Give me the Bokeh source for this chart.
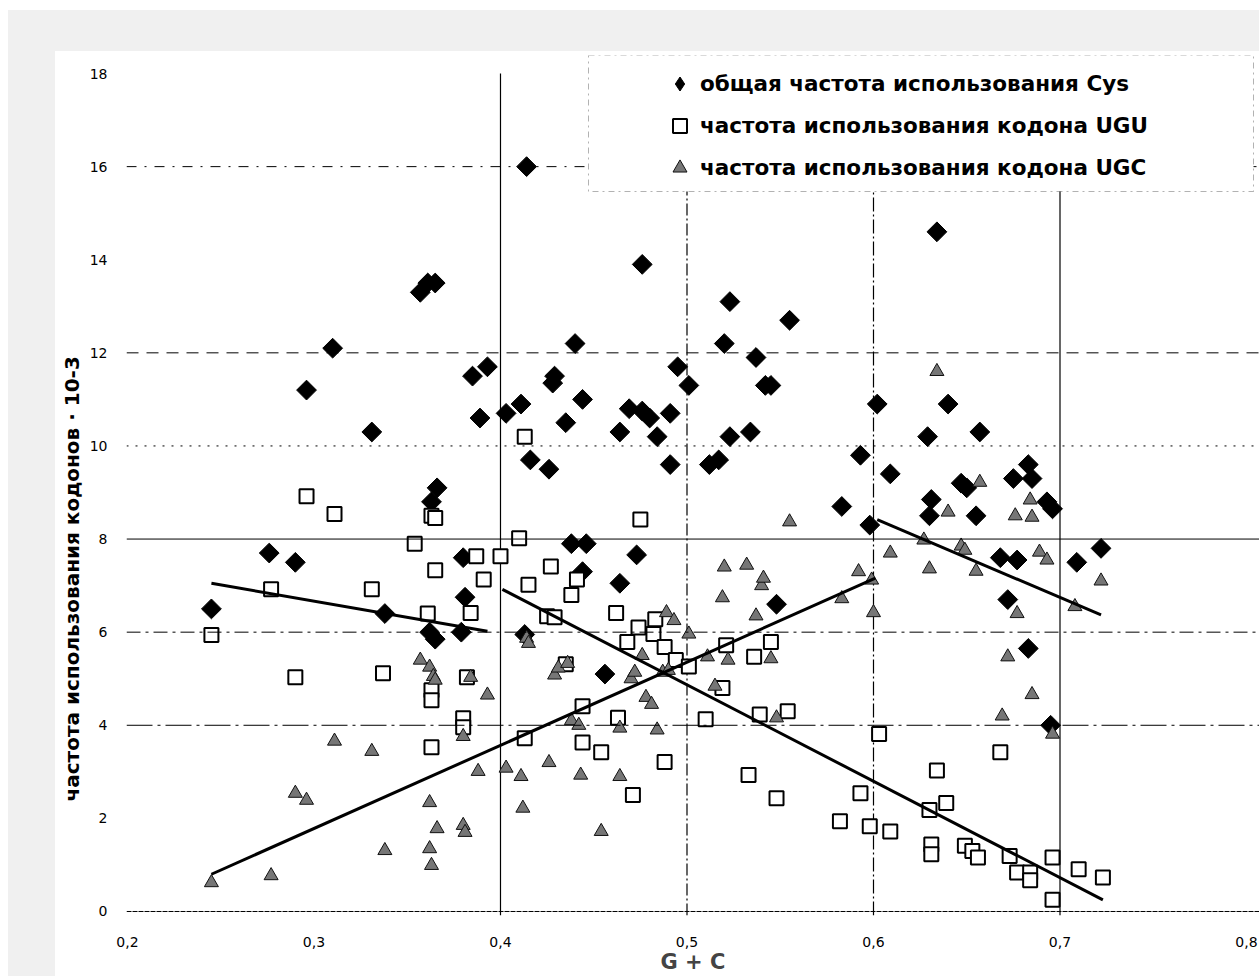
import numpy as np
from bokeh.plotting import figure
from bokeh.models import (ColumnDataSource, Span, FixedTicker, Legend, LegendItem,
                          Title, Spacer, Range1d, BoxAnnotation)
from bokeh.layouts import column, row
from bokeh.embed import file_html
from bokeh.resources import INLINE

# ---------------- data ----------------
cys_gc = [0.245, 0.276, 0.290, 0.296, 0.310, 0.331, 0.338, 0.357, 0.361, 0.365,
          0.363, 0.366, 0.362, 0.365, 0.380, 0.381, 0.379, 0.385, 0.393, 0.389,
          0.403, 0.411, 0.414, 0.413, 0.416, 0.426, 0.429, 0.428, 0.435, 0.440,
          0.444, 0.438, 0.446, 0.444, 0.456, 0.464, 0.473, 0.464, 0.469, 0.476,
          0.480, 0.484, 0.491, 0.491, 0.476, 0.495, 0.501, 0.512, 0.517, 0.523,
          0.534, 0.520, 0.523, 0.537, 0.542, 0.545, 0.548, 0.555, 0.583, 0.593,
          0.598, 0.602, 0.609, 0.629, 0.630, 0.631, 0.634, 0.640, 0.647, 0.650,
          0.655, 0.657, 0.668, 0.672, 0.675, 0.677, 0.683, 0.685, 0.683, 0.693,
          0.696, 0.695, 0.709, 0.722]
cys_val = [6.5, 7.7, 7.5, 11.2, 12.1, 10.3, 6.4, 13.3, 13.5, 13.5,
           8.8, 9.1, 6.0, 5.85, 7.6, 6.75, 6.0, 11.5, 11.7, 10.6,
           10.7, 10.9, 16.0, 5.95, 9.7, 9.5, 11.5, 11.35, 10.5, 12.2,
           11.0, 7.9, 7.9, 7.3, 5.1, 7.05, 7.66, 10.3, 10.8, 10.75,
           10.6, 10.2, 10.7, 9.6, 13.9, 11.7, 11.3, 9.6, 9.7, 10.2,
           10.3, 12.2, 13.1, 11.9, 11.3, 11.3, 6.6, 12.7, 8.7, 9.8,
           8.3, 10.9, 9.4, 10.2, 8.5, 8.85, 14.6, 10.9, 9.2, 9.1,
           8.5, 10.3, 7.6, 6.7, 9.3, 7.55, 9.6, 9.3, 5.65, 8.8,
           8.65, 4.0, 7.5, 7.8]

ugu_gc = [0.245, 0.277, 0.290, 0.296, 0.311, 0.331, 0.337, 0.354, 0.361, 0.363,
          0.363, 0.363, 0.363, 0.365, 0.365, 0.384, 0.382, 0.380, 0.380, 0.387,
          0.391, 0.400, 0.410, 0.413, 0.413, 0.415, 0.425, 0.429, 0.427, 0.435,
          0.438, 0.441, 0.444, 0.444, 0.454, 0.462, 0.463, 0.468, 0.471, 0.475,
          0.474, 0.482, 0.483, 0.488, 0.488, 0.494, 0.501, 0.510, 0.519, 0.521,
          0.533, 0.536, 0.539, 0.545, 0.548, 0.554, 0.582, 0.593, 0.598, 0.603,
          0.609, 0.630, 0.631, 0.631, 0.634, 0.639, 0.649, 0.653, 0.656, 0.668,
          0.673, 0.677, 0.684, 0.684, 0.696, 0.696, 0.710, 0.723]
ugu_val = [5.94, 6.92, 5.03, 8.92, 8.54, 6.92, 5.12, 7.9, 6.4, 4.75,
           4.54, 3.53, 8.5, 8.45, 7.33, 6.41, 5.03, 4.15, 3.96, 7.63,
           7.13, 7.63, 8.02, 10.2, 3.72, 7.02, 6.34, 6.32, 7.41, 5.31,
           6.8, 7.13, 4.41, 3.63, 3.42, 6.41, 4.16, 5.79, 2.5, 8.42,
           6.1, 5.96, 6.28, 5.68, 3.21, 5.4, 5.26, 4.13, 4.8, 5.72,
           2.93, 5.47, 4.23, 5.79, 2.43, 4.3, 1.94, 2.54, 1.83, 3.81,
           1.72, 2.18, 1.44, 1.23, 3.03, 2.33, 1.41, 1.3, 1.16, 3.42,
           1.19, 0.84, 0.84, 0.67, 1.16, 0.25, 0.91, 0.73]

ugc_gc = [0.245, 0.277, 0.290, 0.296, 0.311, 0.331, 0.338, 0.357, 0.362, 0.364,
          0.365, 0.362, 0.366, 0.362, 0.363, 0.380, 0.381, 0.380, 0.384, 0.393,
          0.388, 0.403, 0.411, 0.412, 0.414, 0.415, 0.426, 0.429, 0.431, 0.436,
          0.438, 0.442, 0.443, 0.454, 0.464, 0.464, 0.470, 0.472, 0.476, 0.478,
          0.481, 0.484, 0.489, 0.493, 0.487, 0.490, 0.501, 0.511, 0.515, 0.519,
          0.520, 0.522, 0.532, 0.537, 0.540, 0.541, 0.545, 0.548, 0.555, 0.583,
          0.592, 0.599, 0.600, 0.609, 0.627, 0.630, 0.634, 0.640, 0.647, 0.649,
          0.655, 0.657, 0.669, 0.672, 0.676, 0.677, 0.684, 0.685, 0.685, 0.689,
          0.693, 0.696, 0.708, 0.722]
ugc_val = [0.62, 0.77, 2.54, 2.39, 3.66, 3.44, 1.31, 5.4, 5.25, 5.05,
           4.97, 2.34, 1.78, 1.35, 0.99, 1.85, 1.7, 3.76, 5.03, 4.65,
           3.01, 3.08, 2.9, 2.22, 5.87, 5.76, 3.2, 5.08, 5.23, 5.33,
           4.1, 4.0, 2.93, 1.72, 2.9, 3.94, 5.0, 5.14, 5.5, 4.6,
           4.45, 3.9, 6.42, 6.25, 5.14, 5.18, 5.96, 5.47, 4.84, 6.74,
           7.4, 5.4, 7.44, 6.35, 7.0, 7.16, 5.43, 4.16, 8.37, 6.72,
           7.3, 7.12, 6.42, 7.7, 7.98, 7.36, 11.6, 8.58, 7.85, 7.76,
           7.31, 9.22, 4.2, 5.47, 8.5, 6.4, 8.84, 8.47, 4.66, 7.72,
           7.55, 3.81, 6.55, 7.1]

# trend lines (end points)
trend_cys_left_gc = [0.245, 0.393]
trend_cys_left_val = [7.05, 6.02]
trend_cys_right_gc = [0.602, 0.722]
trend_cys_right_val = [8.42, 6.37]
trend_ugu_gc = [0.401, 0.723]
trend_ugu_val = [6.92, 0.25]
trend_ugc_gc = [0.245, 0.601]
trend_ugc_val = [0.80, 7.16]

x_ticks = [0.2, 0.3, 0.4, 0.5, 0.6, 0.7, 0.8]
x_tick_labels = ["0,2", "0,3", "0,4", "0,5", "0,6", "0,7", "0,8"]
y_ticks = [0, 2, 4, 6, 8, 10, 12, 14, 16, 18]
y_tick_labels = ["0", "2", "4", "6", "8", "10", "12", "14", "16", "18"]

legend_labels = ["общая частота использования Cys",
                 "частота использования кодона UGU",
                 "частота использования кодона UGC"]
x_title = "G + C"
y_title = "частота использования кодонов · 10-3"

# ---------------- figure ----------------
FONT = "DejaVu Sans"

p = figure(width=1204, height=925, output_backend="svg", toolbar_location=None,
           x_range=Range1d(0.19947, 0.80697), y_range=Range1d(-0.086, 18.387),
           min_border_left=68, min_border_right=0, min_border_top=4, min_border_bottom=61)
p.background_fill_color = "white"
p.border_fill_color = "white"
p.outline_line_color = None
p.xgrid.visible = False
p.ygrid.visible = False

# axes
p.xaxis.ticker = FixedTicker(ticks=x_ticks)
p.xaxis.major_label_overrides = dict(zip(x_ticks, x_tick_labels))
p.yaxis.ticker = FixedTicker(ticks=y_ticks)
p.yaxis.major_label_overrides = dict(zip(y_ticks, y_tick_labels))
for ax in (p.xaxis, p.yaxis):
    ax.axis_line_color = None
    ax.major_tick_line_color = None
    ax.minor_tick_line_color = None
    ax.major_label_text_font = FONT
    ax.major_label_text_font_size = "14px"
    ax.major_label_text_color = "black"
p.xaxis.major_label_standoff = 15
p.yaxis.major_label_standoff = 13
p.xaxis.axis_label = x_title
p.xaxis.axis_label_text_font = FONT
p.xaxis.axis_label_text_font_size = "21px"
p.xaxis.axis_label_text_font_style = "bold"
p.xaxis.axis_label_standoff = 0

p.add_layout(Title(text=y_title, align="left", offset=114, standoff=5,
                   text_font=FONT, text_font_size="20px", text_font_style="bold",
                   text_color="black"), "left")

# horizontal grid lines with the scanned dash styles
hdash = {16: "10 8 2 8", 12: "12 8", 10: "2 7", 8: "solid", 6: "14 5 3 5",
         4: "26 5 3 5", 0: "5 1"}
for v in y_ticks:
    if v in hdash:
        p.add_layout(Span(location=v, dimension="width", line_color="black",
                          line_width=1, line_dash=hdash[v]))

# vertical grid lines (0 .. 18)
vdash = {0.4: "solid", 0.5: "12 3 2 3", 0.6: "14 3 2 3", 0.7: "solid"}
for gx in x_ticks:
    if gx in vdash:
        p.segment(x0=[gx], y0=[-0.086], x1=[gx], y1=[y_ticks[-1]],
                  line_color="black", line_width=1.2, line_dash=vdash[gx])

src_cys = ColumnDataSource(dict(x=cys_gc, y=cys_val))
src_ugu = ColumnDataSource(dict(x=ugu_gc, y=ugu_val))
src_ugc = ColumnDataSource(dict(x=ugc_gc, y=ugc_val))

r_cys = p.scatter("x", "y", source=src_cys, marker="square", angle=np.pi / 4,
                  size=14, fill_color="black", line_color="black", line_width=1)
r_ugu = p.scatter("x", "y", source=src_ugu, marker="square", size=14,
                  fill_color="white", line_color="black", line_width=2)
r_ugc = p.scatter("x", "y", source=src_ugc, marker="triangle", size=14,
                  fill_color="#767676", line_color="#111111", line_width=1)
# diamond glyph for the legend only
r_cys_leg = p.scatter("x", "y", source=src_cys, marker="diamond", size=14,
                      fill_color="black", line_color="black", visible=False)

for tx, ty in ((trend_cys_left_gc, trend_cys_left_val),
               (trend_cys_right_gc, trend_cys_right_val),
               (trend_ugu_gc, trend_ugu_val),
               (trend_ugc_gc, trend_ugc_val)):
    p.line(tx, ty, line_color="black", line_width=3)

# legend frame (screen units, relative to the plot area)
legend_box = BoxAnnotation(left=462, right=1127, top=860, bottom=724,
                           left_units="screen", right_units="screen",
                           top_units="screen", bottom_units="screen",
                           fill_color="white", fill_alpha=1.0,
                           line_color="black", line_width=1, line_dash="dashdot")
p.add_layout(legend_box)

legend = Legend(items=[LegendItem(label=legend_labels[0], renderers=[r_cys_leg]),
                       LegendItem(label=legend_labels[1], renderers=[r_ugu]),
                       LegendItem(label=legend_labels[2], renderers=[r_ugc])],
                location=(536, 730), orientation="vertical", margin=0,
                padding=10, spacing=7, glyph_width=35, glyph_height=35,
                label_standoff=3, label_height=35,
                label_text_font=FONT, label_text_font_size="21.5px",
                label_text_font_style="bold", label_text_color="black",
                border_line_color=None, background_fill_alpha=0.0,
                inactive_fill_alpha=0.0)
p.add_layout(legend)

GRAY = "#f0f0f0"
gray_top = Spacer(width=1251, height=41, styles={"background-color": GRAY})
gray_left = Spacer(width=47, height=925, styles={"background-color": GRAY})
inner = column(gray_top, row(gray_left, p, spacing=0), spacing=0)
layout = column(Spacer(width=1259, height=10),
                row(Spacer(width=8, height=966), inner, spacing=0), spacing=0)

open("out.html", "w").write(file_html(layout, INLINE))
